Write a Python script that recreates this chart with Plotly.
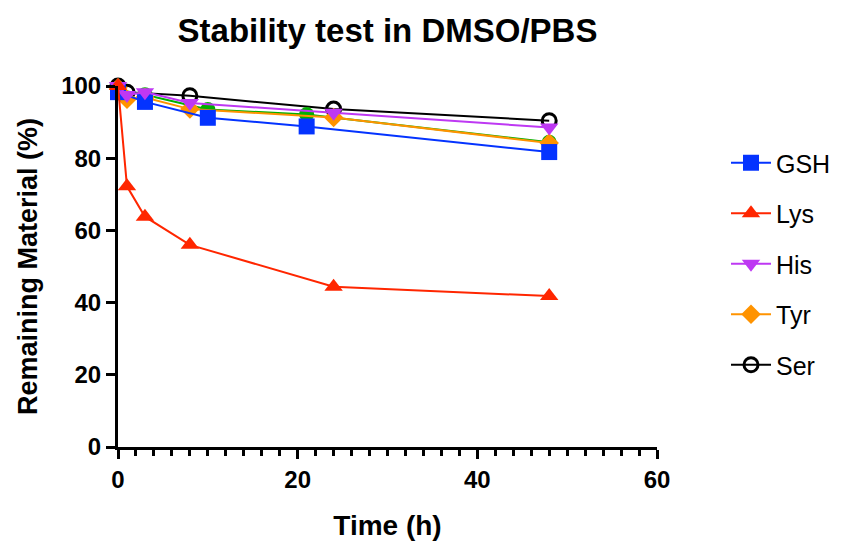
import plotly.graph_objects as go

# Sampling times (h) and remaining material (%) for each nucleophile
t_gsh = [0, 3, 10, 21, 48]
v_gsh = [98.3, 95.6, 91.2, 88.8, 81.7]

t_lys = [0, 1, 3, 8, 24, 48]
v_lys = [100.0, 72.2, 63.8, 56.0, 44.4, 41.8]

t_his = [0, 1, 3, 8, 24, 48]
v_his = [100.0, 97.5, 98.3, 95.3, 92.6, 88.5]

t_tyr = [0, 1, 3, 8, 24, 48]
v_tyr = [99.5, 96.3, 96.8, 93.6, 91.3, 84.2]

t_ctl = [0, 3, 10, 21, 48]
v_ctl = [99.0, 97.6, 93.5, 92.1, 84.4]

t_ser = [0, 1, 8, 24, 48]
v_ser = [100.0, 98.3, 97.3, 93.6, 90.4]

x_ticks = [0, 20, 40, 60]
y_ticks = [0, 20, 40, 60, 80, 100]

FONT = "Liberation Sans, Arial, sans-serif"

fig = go.Figure()


def add(name, t, v, color, symbol, size, rank, legend=True, mline=None):
    marker = dict(color=color, symbol=symbol, size=size)
    if mline:
        marker["line"] = mline
    fig.add_trace(go.Scatter(
        x=t, y=v, name=name, mode="lines+markers",
        line=dict(color=color, width=2),
        marker=marker, showlegend=legend,
        legendrank=rank, legendgroup=name, cliponaxis=False,
    ))


# drawn bottom to top
add("Ser", t_ser, v_ser, "#000000", "circle-open", 14, 5,
    mline=dict(width=3, color="#000000"))
add("ctl", t_ctl, v_ctl, "#00B000", "circle", 15, 6, legend=False)
add("Tyr", t_tyr, v_tyr, "#FF9300", "diamond", 15, 4)
add("GSH", t_gsh, v_gsh, "#0433FF", "square", 16, 1)
add("His", t_his, v_his, "#BE38F3", "triangle-down", 16, 3)
add("Lys", t_lys, v_lys, "#FF2600", "triangle-up", 16, 2)

axis_common = dict(
    showline=True, linecolor="black", linewidth=3,
    ticks="outside", ticklen=9, tickwidth=3, tickcolor="black",
    showgrid=False, zeroline=False,
    tickfont=dict(family=FONT, size=24, color="black", weight="bold"),
)

fig.update_layout(
    width=855, height=541,
    margin=dict(l=118, r=198, t=86, b=94, autoexpand=False),
    paper_bgcolor="white", plot_bgcolor="white",
    title=dict(text="<b>Stability test in DMSO/PBS</b>",
               x=(118 + 657) / 2 / 855, xanchor="center",
               y=1 - 30 / 541, yanchor="middle",
               font=dict(family=FONT, size=33, color="black")),
    xaxis=dict(range=[0, 60], tickvals=x_ticks,
               minor=dict(dtick=2, ticks="outside", ticklen=6,
                          tickwidth=2.5, tickcolor="black"),
               title=dict(text="<b>Time (h)</b>", standoff=24,
                          font=dict(family=FONT, size=28, color="black")),
               **axis_common),
    yaxis=dict(range=[0, 100], tickvals=y_ticks,
               title=dict(text="<b>Remaining Material (%)</b>", standoff=16,
                          font=dict(family=FONT, size=27, color="black")),
               **axis_common),
    legend=dict(x=(726 - 118) / 539, xanchor="left",
                y=(447 - 140) / 361, yanchor="top",
                tracegroupgap=15, itemwidth=40,
                font=dict(family=FONT, size=25, color="black")),
)

fig.write_html("out.html")
